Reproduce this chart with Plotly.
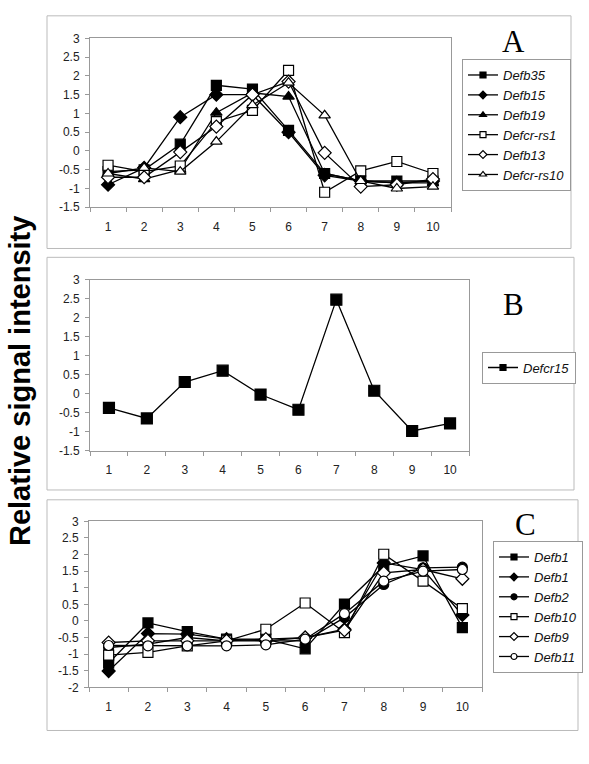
import plotly.graph_objects as go

W, H = 589, 764
x_cats = [1, 2, 3, 4, 5, 6, 7, 8, 9, 10]

# Panel A
a_names = ["Defb35", "Defb15", "Defb19", "Defcr-rs1", "Defb13", "Defcr-rs10"]
a_defb35 = [-0.55, -0.5, 0.18, 1.75, 1.65, 0.55, -0.6, -0.8, -0.8, -0.8]
a_defb15 = [-0.9, -0.45, 0.9, 1.5, 1.5, 0.5, -0.65, -0.8, -0.85, -0.8]
a_defb19 = [-0.6, -0.75, -0.5, 1.02, 1.55, 1.45, -0.6, -0.8, -0.85, -0.85]
a_defcrrs1 = [-0.38, -0.55, -0.4, 0.78, 1.08, 2.15, -1.1, -0.53, -0.28, -0.6]
a_defb13 = [-0.7, -0.7, -0.03, 0.65, 1.5, 1.85, -0.05, -0.95, -0.9, -0.75]
a_defcrrs10 = [-0.6, -0.45, -0.55, 0.25, 1.22, 1.82, 0.95, -0.8, -1.0, -0.95]

# Panel B
b_names = ["Defcr15"]
b_defcr15 = [-0.37, -0.65, 0.31, 0.61, -0.02, -0.42, 2.48, 0.08, -0.98, -0.78]

# Panel C
c_names = ["Defb1", "Defb1", "Defb2", "Defb10", "Defb9", "Defb11"]
c_defb1a = [-1.27, -0.06, -0.32, -0.55, -0.55, -0.84, 0.51, 1.65, 1.96, -0.2]
c_defb1b = [-1.51, -0.38, -0.4, -0.55, -0.6, -0.5, -0.25, 1.75, 1.55, 0.18]
c_defb2 = [-0.8, -0.7, -0.5, -0.6, -0.6, -0.6, 0.1, 1.1, 1.6, 1.62]
c_defb10 = [-1.03, -0.95, -0.75, -0.6, -0.25, 0.54, -0.35, 2.01, 1.2, 0.37]
c_defb9 = [-0.65, -0.6, -0.6, -0.6, -0.55, -0.5, -0.28, 1.45, 1.55, 1.27]
c_defb11 = [-0.74, -0.75, -0.75, -0.75, -0.72, -0.55, 0.22, 1.2, 1.5, 1.55]

ab_ytick_vals = [3, 2.5, 2, 1.5, 1, 0.5, 0, -0.5, -1, -1.5]
ab_ytick_text = ["3", "2.5", "2", "1.5", "1", "0.5", "0", "-0.5", "-1", "-1.5"]
c_ytick_vals = [3, 2.5, 2, 1.5, 1, 0.5, 0, -0.5, -1, -1.5, -2]
c_ytick_text = ["3", "2.5", "2", "1.5", "1", "0.5", "0", "-0.5", "-1", "-1.5", "-2"]
x_tick_text = ["1", "2", "3", "4", "5", "6", "7", "8", "9", "10"]

panel_letters = ["A", "B", "C"]
y_title = "Relative signal intensity"

def px_x(p):
    return p / W

def px_y(p):
    return 1 - p / H

fig = go.Figure()

def style(sym, filled, size):
    return dict(symbol=sym, size=size, color="black" if filled else "white",
                line=dict(color="black", width=1.2))

def add_series(names, series, syms, fills, size, xa, ya, leg):
    for i, (name, ys, sym, filled) in enumerate(zip(names, series, syms, fills)):
        fig.add_trace(go.Scatter(x=x_cats, y=ys, name=name, mode="lines+markers",
                                 line=dict(color="black", width=1.3), marker=style(sym, filled, size),
                                 xaxis=xa, yaxis=ya, showlegend=False))
        # legend entry with small marker, as in the original
        fig.add_trace(go.Scatter(x=[None], y=[None], name=name, mode="lines+markers",
                                 line=dict(color="black", width=1.3), marker=style(sym, filled, 6),
                                 xaxis=xa, yaxis=ya, legend=leg, showlegend=True))

add_series(a_names, [a_defb35, a_defb15, a_defb19, a_defcrrs1, a_defb13, a_defcrrs10],
           ["square", "diamond", "triangle-up", "square", "diamond", "triangle-up"],
           [True, True, True, False, False, False], 10, "x", "y", "legend")
add_series(b_names, [b_defcr15], ["square"], [True], 11, "x2", "y2", "legend2")
add_series(c_names, [c_defb1a, c_defb1b, c_defb2, c_defb10, c_defb9, c_defb11],
           ["square", "diamond", "circle", "square", "diamond", "circle"],
           [True, True, True, False, False, False], 10, "x3", "y3", "legend3")

tick_font = dict(family="Liberation Sans, Arial", size=12, color="#222")

def xaxis(dom, anchor):
    return dict(domain=dom, anchor=anchor, range=[0.5, 10.5], tickvals=x_cats, ticktext=x_tick_text,
                ticks="", showline=True, linecolor="#999", linewidth=1, mirror=True,
                showgrid=False, zeroline=False, tickfont=tick_font, ticklabelstandoff=8,
                minor=dict(tickmode="linear", tick0=0.5, dtick=1, ticks="outside", ticklen=4,
                           tickcolor="#999", showgrid=False))

def yaxis(dom, anchor, rng, vals, text):
    return dict(domain=dom, anchor=anchor, range=rng, tickvals=vals, ticktext=text,
                ticks="outside", ticklen=4, tickcolor="#999", showline=True, linecolor="#999",
                linewidth=1, mirror=True, showgrid=False, zeroline=False, tickfont=tick_font,
                ticklabelstandoff=3)

legend_common = dict(bgcolor="white", bordercolor="#999", borderwidth=1,
                     font=dict(family="Liberation Sans, Arial", size=13, color="#111", style="italic"),
                     xanchor="left", yanchor="top", itemwidth=30, tracegroupgap=0)

fig.update_layout(
    width=W, height=H, margin=dict(l=0, r=0, t=0, b=0),
    paper_bgcolor="white", plot_bgcolor="white",
    xaxis=xaxis([px_x(90), px_x(451)], "y"),
    yaxis=yaxis([px_y(204), px_y(32)], "x", [-1.5, 3], ab_ytick_vals, ab_ytick_text),
    xaxis2=xaxis([px_x(90), px_x(469)], "y2"),
    yaxis2=yaxis([px_y(452), px_y(278)], "x2", [-1.5, 3], ab_ytick_vals, ab_ytick_text),
    xaxis3=xaxis([px_x(89), px_x(482)], "y3"),
    yaxis3=yaxis([px_y(693), px_y(524)], "x3", [-2, 3], c_ytick_vals, c_ytick_text),
    legend=dict(x=px_x(462), y=px_y(53), **legend_common),
    legend2=dict(x=px_x(482), y=px_y(351), **legend_common),
    legend3=dict(x=px_x(493), y=px_y(544), **legend_common),
    showlegend=True,
)

# panel frames
for (x0, y0, x1, y1) in [(47, 9, 571, 246), (47, 255, 574, 492), (47, 502, 578, 737)]:
    fig.add_shape(type="rect", xref="paper", yref="paper",
                  x0=px_x(x0), x1=px_x(x1), y0=px_y(y1), y1=px_y(y0),
                  line=dict(color="#bbb", width=1), fillcolor="rgba(0,0,0,0)", layer="below")

for letter, (lx, ly) in zip(panel_letters, [(513, 35), (513, 303), (525, 527)]):
    fig.add_annotation(text=letter, xref="paper", yref="paper", x=px_x(lx), y=px_y(ly),
                       showarrow=False, xanchor="center", yanchor="middle",
                       font=dict(family="Liberation Serif, Times New Roman", size=31, color="black"))

fig.add_annotation(text="<b>" + y_title + "</b>", xref="paper", yref="paper", x=px_x(20), y=px_y(381),
                   textangle=-90, showarrow=False, xanchor="center", yanchor="middle",
                   font=dict(family="Liberation Sans, Arial", size=29, color="black"))

fig.write_html("out.html", config={"displayModeBar": False},
               post_script="document.body.style.margin='0';")
